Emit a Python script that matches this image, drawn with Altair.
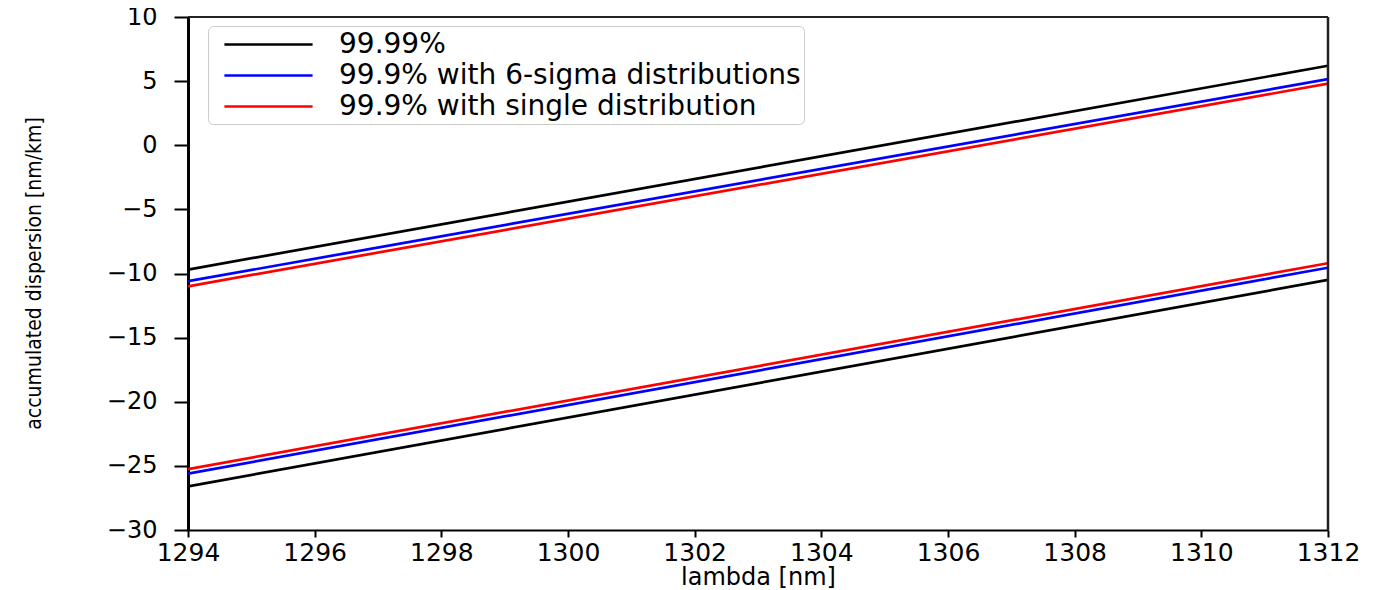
import altair as alt
import pandas as pd

# wavelength endpoints [nm]
lam = [1294, 1312]

# accumulated dispersion [nm/km], upper and lower bounds
black_upper = [-9.7, 6.2]
blue_upper = [-10.6, 5.15]
red_upper = [-11.0, 4.8]
black_lower = [-26.6, -10.5]
blue_lower = [-25.6, -9.55]
red_lower = [-25.25, -9.2]

series_names = [
    "99.99%",
    "99.9% with 6-sigma distributions",
    "99.9% with single distribution",
]
series_colors = ["#000000", "#0000ff", "#ff0000"]
x_ticks = [1294, 1296, 1298, 1300, 1302, 1304, 1306, 1308, 1310, 1312]
y_ticks = [10, 5, 0, -5, -10, -15, -20, -25, -30]

rows = []
for name, up, lo in zip(series_names,
                        [black_upper, blue_upper, red_upper],
                        [black_lower, blue_lower, red_lower]):
    for branch, vals in (("upper", up), ("lower", lo)):
        for x, y in zip(lam, vals):
            rows.append({"series": name, "branch": branch, "lambda": x, "disp": y})
df = pd.DataFrame(rows)

FONT = "DejaVu Sans"
W, H = 1140, 513

lines = (
    alt.Chart(df)
    .mark_line(strokeWidth=2.7, clip=True)
    .encode(
        x=alt.X(
            "lambda:Q",
            scale=alt.Scale(domain=[1294, 1312], nice=False, zero=False),
            axis=alt.Axis(
                title="lambda [nm]",
                values=x_ticks,
                format="d",
                grid=False,
                tickSize=7,
                tickWidth=2,
                tickColor="#000000",
                domainColor="#000000",
                domainWidth=2,
                labelFont=FONT,
                labelFontSize=25,
                labelColor="#000000",
                labelPadding=3,
                labelFlush=False,
                labelOverlap=False,
                titleFont=FONT,
                titleFontSize=24,
                titleFontWeight="normal",
                titleColor="#000000",
                titleBaseline="middle",
                titleY=47,
            ),
        ),
        y=alt.Y(
            "disp:Q",
            scale=alt.Scale(domain=[-30, 10], nice=False, zero=False),
            axis=alt.Axis(
                title="accumulated dispersion [nm/km]",
                values=y_ticks,
                labelExpr="replace(datum.label, '-', '\u2212')",
                grid=False,
                tickSize=14,
                tickWidth=2,
                tickColor="#000000",
                domainColor="#000000",
                domainWidth=3,
                labelFont=FONT,
                labelFontSize=24,
                labelColor="#000000",
                labelPadding=17,
                labelFlush=False,
                labelOverlap=False,
                titleFont="DejaVu Sans Condensed, Liberation Sans, sans-serif",
                titleFontSize=21,
                titleFontWeight="normal",
                titleColor="#000000",
                titleAngle=270,
                titleAlign="center",
                titleBaseline="middle",
                titleX=-154,
                titleY=256,
            ),
        ),
        color=alt.Color(
            "series:N",
            scale=alt.Scale(domain=series_names, range=series_colors),
            legend=alt.Legend(
                title=None,
                orient="none",
                legendX=20,
                legendY=9,
                symbolType="M-3.15,0H3.15",
                symbolSize=784,
                symbolStrokeWidth=2.5,
                symbolOffset=42,
                labelOffset=55,
                labelFont=FONT,
                labelFontSize=28,
                labelColor="#000000",
                labelLimit=1000,
                rowPadding=1,
                padding=3,
                strokeColor="#cccccc",
                fillColor="rgba(255,255,255,0.8)",
                cornerRadius=5,
            ),
        ),
        detail="branch:N",
    )
)

frame_df = pd.DataFrame({"k": [0]})
top_spine = alt.Chart(frame_df).mark_rule(color="#222222", strokeWidth=2).encode(
    x=alt.value(0), x2=alt.value(W), y=alt.value(0)
)
right_spine = alt.Chart(frame_df).mark_rule(color="#222222", strokeWidth=2.5).encode(
    x=alt.value(W), y=alt.value(0), y2=alt.value(H)
)

chart = (
    alt.layer(lines, top_spine, right_spine)
    .properties(
        width=W,
        height=H,
        autosize=alt.AutoSizeParams(type="none"),
        padding={"left": 180, "top": 9, "right": 44, "bottom": 60},
    )
    .configure_view(stroke=None)
    .configure(background="white")
)

chart.save("out.html", embed_options={"renderer": "svg", "actions": False})
